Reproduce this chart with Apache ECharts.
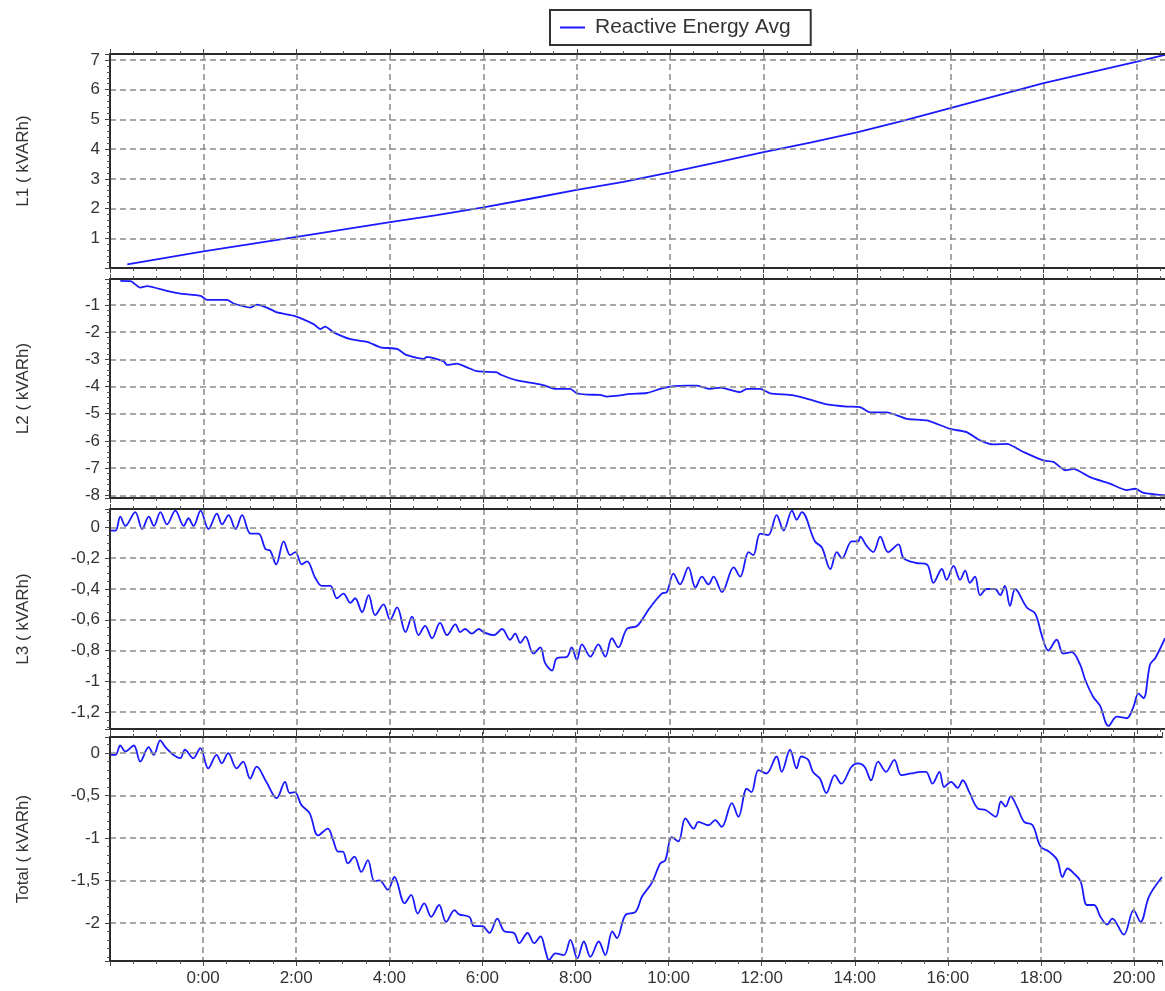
<!DOCTYPE html>
<html>
<head>
<meta charset="utf-8">
<title>Reactive Energy Avg</title>
<script src="https://cdn.jsdelivr.net/npm/echarts@6/dist/echarts.min.js"></script>
<style>
	html, body { margin: 0; padding: 0; background: #fff; }
	#chart { width: 1165px; height: 991px; }
</style>
</head>
<body>
<div id="chart"></div>
<script>
var seriesName = 'Reactive Energy Avg';
var panelNames = ['L1 ( kVARh)', 'L2 ( kVARh)', 'L3 ( kVARh)', 'Total ( kVARh)'];

// time in hours (negative = previous evening), values in kVARh
var l1Hours = [-1.63, -1, 0, 2, 4, 5, 6, 7, 8, 9, 10, 11, 12, 13, 14, 15, 16, 17, 18, 19, 20, 20.6];
var l1Values = [0.12, 0.29, 0.56, 1.05, 1.54, 1.78, 2.04, 2.33, 2.63, 2.90, 3.22, 3.55, 3.90, 4.22, 4.56, 4.96, 5.38, 5.80, 6.22, 6.58, 6.94, 7.17];

var l2Hours = [-1.78, -1.56, -1.35, -1.21, -0.78, -0.49, -0.06, 0.08, 0.51, 0.65,
	1.01, 1.15, 1.36, 1.58, 1.93, 2.36, 2.51, 2.61, 2.79, 3.15,
	3.51, 3.79, 4.15, 4.33, 4.58, 4.72, 4.79, 5.15, 5.22, 5.43,
	5.65, 5.86, 6.29, 6.36, 6.72, 7.07, 7.32, 7.54, 7.86, 8.00,
	8.22, 8.50, 8.64, 8.93, 9.14, 9.50, 9.79, 10.07, 10.36, 10.57,
	10.86, 11.07, 11.50, 11.64, 11.93, 12.14, 12.64, 13.07, 13.36, 13.78,
	14.07, 14.28, 14.64, 15.07, 15.50, 16.00, 16.35, 16.64, 16.92, 17.21,
	17.57, 17.99, 18.21, 18.46, 18.64, 18.99, 19.42, 19.78, 19.96, 20.14,
	20.60];
var l2Values = [-0.12, -0.13, -0.37, -0.31, -0.49, -0.59, -0.67, -0.82, -0.82, -0.95,
	-1.10, -0.99, -1.10, -1.28, -1.40, -1.71, -1.89, -1.80, -2.01, -2.26,
	-2.36, -2.56, -2.62, -2.83, -2.95, -2.99, -2.91, -3.08, -3.21, -3.16,
	-3.30, -3.44, -3.48, -3.56, -3.78, -3.88, -3.97, -4.09, -4.09, -4.25,
	-4.30, -4.31, -4.37, -4.33, -4.27, -4.24, -4.09, -3.99, -3.97, -3.97,
	-4.09, -4.04, -4.21, -4.09, -4.09, -4.25, -4.33, -4.52, -4.66, -4.74,
	-4.76, -4.95, -4.95, -5.19, -5.25, -5.56, -5.68, -5.98, -6.13, -6.11,
	-6.41, -6.72, -6.77, -7.08, -7.03, -7.33, -7.57, -7.81, -7.76, -7.91,
	-8.00];

var l3Hours = [-1.99, -1.88, -1.78, -1.67, -1.46, -1.31, -1.17, -1.06, -0.92, -0.78,
	-0.60, -0.42, -0.32, -0.21, -0.06, 0.11, 0.29, 0.40, 0.54, 0.69,
	0.83, 1.01, 1.18, 1.33, 1.43, 1.56, 1.72, 1.86, 1.97, 2.11,
	2.22, 2.40, 2.54, 2.72, 2.86, 3.00, 3.15, 3.25, 3.40, 3.54,
	3.68, 3.86, 4.00, 4.15, 4.33, 4.47, 4.61, 4.75, 4.90, 5.07,
	5.22, 5.40, 5.50, 5.61, 5.75, 5.90, 6.00, 6.22, 6.40, 6.57,
	6.68, 6.79, 6.90, 7.07, 7.22, 7.32, 7.47, 7.57, 7.79, 7.89,
	8.00, 8.11, 8.29, 8.46, 8.61, 8.75, 8.89, 9.07, 9.29, 9.46,
	9.57, 9.82, 9.93, 10.07, 10.21, 10.39, 10.54, 10.68, 10.82, 10.93,
	11.11, 11.36, 11.50, 11.68, 11.78, 11.93, 12.10, 12.28, 12.43, 12.61,
	12.71, 12.82, 13.10, 13.25, 13.43, 13.57, 13.68, 13.89, 14.03, 14.07,
	14.21, 14.35, 14.50, 14.67, 14.89, 15.00, 15.25, 15.50, 15.64, 15.82,
	15.92, 16.07, 16.21, 16.32, 16.42, 16.53, 16.64, 16.78, 16.96, 17.07,
	17.17, 17.28, 17.39, 17.64, 17.82, 17.96, 18.10, 18.28, 18.42, 18.60,
	18.78, 18.89, 19.06, 19.21, 19.39, 19.57, 19.78, 19.92, 20.03, 20.14,
	20.28, 20.39, 20.60];
var l3Values = [-0.02, -0.02, 0.07, 0.01, 0.10, -0.01, 0.07, 0.01, 0.10, 0.02,
	0.11, 0.01, 0.06, 0.01, 0.11, -0.01, 0.09, 0.02, 0.08, -0.01,
	0.08, -0.04, -0.04, -0.14, -0.15, -0.24, -0.09, -0.18, -0.16, -0.24,
	-0.22, -0.33, -0.38, -0.38, -0.46, -0.43, -0.49, -0.46, -0.55, -0.44,
	-0.57, -0.50, -0.60, -0.52, -0.68, -0.58, -0.70, -0.64, -0.72, -0.62,
	-0.70, -0.63, -0.68, -0.66, -0.69, -0.66, -0.68, -0.70, -0.66, -0.73,
	-0.69, -0.75, -0.71, -0.82, -0.78, -0.88, -0.93, -0.85, -0.84, -0.78,
	-0.86, -0.76, -0.84, -0.76, -0.84, -0.72, -0.78, -0.66, -0.64, -0.57,
	-0.52, -0.43, -0.42, -0.30, -0.37, -0.26, -0.39, -0.32, -0.37, -0.32,
	-0.42, -0.26, -0.32, -0.16, -0.18, -0.04, -0.05, 0.08, -0.02, 0.11,
	0.05, 0.10, -0.09, -0.13, -0.27, -0.16, -0.20, -0.09, -0.09, -0.06,
	-0.12, -0.16, -0.06, -0.16, -0.11, -0.20, -0.23, -0.24, -0.36, -0.27,
	-0.34, -0.25, -0.34, -0.28, -0.36, -0.32, -0.44, -0.40, -0.40, -0.44,
	-0.38, -0.51, -0.40, -0.52, -0.56, -0.70, -0.80, -0.73, -0.82, -0.81,
	-0.89, -0.99, -1.10, -1.16, -1.29, -1.23, -1.24, -1.17, -1.08, -1.11,
	-0.89, -0.85, -0.72];

var totalHours = [-1.99, -1.88, -1.78, -1.67, -1.49, -1.35, -1.17, -1.06, -0.92, -0.81,
	-0.64, -0.49, -0.39, -0.21, -0.06, 0.11, 0.29, 0.40, 0.54, 0.72,
	0.86, 1.01, 1.15, 1.36, 1.58, 1.76, 1.86, 1.97, 2.11, 2.29,
	2.47, 2.68, 2.79, 2.90, 3.00, 3.11, 3.25, 3.40, 3.54, 3.68,
	3.79, 3.97, 4.11, 4.33, 4.47, 4.61, 4.75, 4.90, 5.07, 5.22,
	5.40, 5.50, 5.72, 5.82, 6.00, 6.15, 6.32, 6.47, 6.68, 6.79,
	6.97, 7.11, 7.25, 7.36, 7.43, 7.57, 7.75, 7.89, 8.04, 8.18,
	8.32, 8.50, 8.64, 8.79, 8.89, 9.07, 9.29, 9.43, 9.64, 9.82,
	9.93, 10.07, 10.21, 10.36, 10.54, 10.64, 10.86, 11.00, 11.14, 11.36,
	11.50, 11.68, 11.78, 11.93, 12.10, 12.32, 12.43, 12.61, 12.75, 12.85,
	13.00, 13.10, 13.25, 13.39, 13.57, 13.71, 13.93, 14.07, 14.21, 14.35,
	14.50, 14.67, 14.85, 15.00, 15.21, 15.42, 15.53, 15.67, 15.82, 15.92,
	16.07, 16.21, 16.32, 16.46, 16.64, 16.81, 17.03, 17.14, 17.24, 17.35,
	17.49, 17.64, 17.82, 17.99, 18.17, 18.35, 18.46, 18.57, 18.71, 18.85,
	18.99, 19.14, 19.28, 19.42, 19.53, 19.78, 19.99, 20.14, 20.32, 20.60];
var totalValues = [-0.02, -0.02, 0.09, 0.02, 0.09, -0.10, 0.07, -0.02, 0.15, 0.07,
	-0.02, -0.06, 0.04, -0.06, 0.06, -0.18, -0.02, -0.12, 0.00, -0.18,
	-0.10, -0.30, -0.16, -0.34, -0.53, -0.34, -0.47, -0.46, -0.61, -0.71,
	-0.97, -0.89, -1.02, -1.16, -1.16, -1.30, -1.22, -1.40, -1.26, -1.51,
	-1.50, -1.61, -1.46, -1.77, -1.67, -1.89, -1.77, -1.93, -1.79, -1.99,
	-1.85, -1.90, -1.93, -2.04, -2.04, -2.12, -1.95, -2.10, -2.12, -2.24,
	-2.12, -2.24, -2.16, -2.34, -2.44, -2.36, -2.38, -2.20, -2.42, -2.22,
	-2.40, -2.22, -2.38, -2.10, -2.18, -1.91, -1.87, -1.69, -1.53, -1.30,
	-1.26, -0.99, -1.04, -0.77, -0.89, -0.81, -0.85, -0.79, -0.87, -0.59,
	-0.75, -0.42, -0.46, -0.20, -0.24, -0.04, -0.22, 0.04, -0.18, -0.04,
	-0.08, -0.22, -0.30, -0.47, -0.26, -0.36, -0.16, -0.12, -0.16, -0.32,
	-0.10, -0.22, -0.08, -0.26, -0.24, -0.22, -0.22, -0.36, -0.22, -0.40,
	-0.34, -0.41, -0.32, -0.46, -0.65, -0.67, -0.75, -0.57, -0.63, -0.51,
	-0.64, -0.81, -0.85, -1.10, -1.16, -1.26, -1.46, -1.36, -1.42, -1.51,
	-1.79, -1.79, -1.93, -2.02, -1.95, -2.14, -1.85, -1.99, -1.69, -1.46];

// axis extents per panel
var yMin = [0, -8.1, -1.31, -2.45];
var yMax = [7.2, -0.05, 0.12, 0.19];
var ySplit = [7, 8, 7, 5];
var yMinorSplit = [5, 5, 4, 5];
var xMin = -2, xMax = 20.6, xStep = 2;

var gridTop = [54, 279, 509, 737];
var gridHeight = [214, 219, 220, 224];
var smoothness = [0, 0.2, 0.35, 0.35];

var fontFam = '"Liberation Sans", Arial, sans-serif';
var textColor = '#333';
var lineColor = '#1a1aff';

function pairs(hours, values) {
	var out = [];
	for (var i = 0; i < hours.length; i++) {
		out.push([hours[i], values[i]]);
	}
	return out;
}

var panelData = [
	pairs(l1Hours, l1Values),
	pairs(l2Hours, l2Values),
	pairs(l3Hours, l3Values),
	pairs(totalHours, totalValues)
];

function yLabel(v) {
	return String(+v.toFixed(2)).replace('.', ',');
}

function xLabel(v) {
	if (v < 0 || Math.abs(v % 2) > 1e-6) return '';
	return v + ':00';
}

var gridLine = { color: '#8a8a8a', type: [6, 4], width: 1.5 };

var grids = [], xAxes = [], yAxes = [], series = [];
for (var i = 0; i < 4; i++) {
	grids.push({
		left: 110,
		right: 0,
		top: gridTop[i],
		height: gridHeight[i],
		show: false
	});

	// bottom axis
	xAxes.push({
		gridIndex: i,
		type: 'value',
		position: 'bottom',
		min: xMin,
		max: xMax,
		interval: xStep,
		z: 5,
		axisLine: { show: true, onZero: false, lineStyle: { color: '#2a2a2a', width: 2 } },
		axisTick: { show: true, length: 5, lineStyle: { color: '#444' } },
		minorTick: { show: true, splitNumber: 4, length: 3, lineStyle: { color: '#555' } },
		axisLabel: {
			show: i === 3,
			formatter: xLabel,
			color: textColor,
			fontFamily: fontFam,
			fontSize: 17,
			margin: 9
		},
		splitLine: { show: true, showMinLine: false, showMaxLine: false, lineStyle: gridLine }
	});
	// top axis, frame and ticks only
	xAxes.push({
		gridIndex: i,
		type: 'value',
		position: 'top',
		min: xMin,
		max: xMax,
		interval: xStep,
		z: 5,
		axisLine: { show: true, onZero: false, lineStyle: { color: '#2a2a2a', width: 2 } },
		axisTick: { show: true, length: 5, lineStyle: { color: '#444' } },
		minorTick: { show: true, splitNumber: 4, length: 3, lineStyle: { color: '#555' } },
		axisLabel: { show: false },
		splitLine: { show: false }
	});

	var yAxis = {
		gridIndex: i,
		type: 'value',
		min: yMin[i],
		max: yMax[i],
		splitNumber: ySplit[i],
		z: 5,
		name: panelNames[i],
		nameLocation: 'middle',
		nameGap: 78,
		nameRotate: 90,
		nameTextStyle: { color: textColor, fontFamily: fontFam, fontSize: 17 },
		axisLine: { show: true, onZero: false, lineStyle: { color: '#2a2a2a', width: 2 } },
		axisTick: { show: true, length: 5, lineStyle: { color: '#444' } },
		minorTick: { show: true, splitNumber: yMinorSplit[i], length: 3, lineStyle: { color: '#555' } },
		axisLabel: {
			color: textColor,
			fontFamily: fontFam,
			fontSize: 17,
			margin: 10,
			formatter: yLabel,
			showMinLabel: false,
			showMaxLabel: false
		},
		splitLine: { show: true, showMinLine: false, showMaxLine: false, lineStyle: gridLine }
	};
	if (i === 0) yAxis.interval = 1;
	yAxes.push(yAxis);

	series.push({
		name: seriesName,
		type: 'line',
		xAxisIndex: i * 2,
		yAxisIndex: i,
		data: panelData[i],
		showSymbol: false,
		symbol: 'none',
		smooth: smoothness[i],
		clip: true,
		lineStyle: { color: lineColor, width: 1.8 },
		itemStyle: { color: lineColor }
	});
}

var myChart = echarts.init(document.getElementById('chart'));
myChart.setOption({
	animation: false,
	backgroundColor: '#fff',
	legend: {
		data: [seriesName],
		left: 550,
		top: 10,
		padding: [7, 20, 7, 10],
		borderColor: '#333',
		borderWidth: 2,
		icon: 'rect',
		itemWidth: 25,
		itemHeight: 2,
		textStyle: { color: textColor, fontFamily: fontFam, fontSize: 21, padding: [0, 0, 0, 5] }
	},
	grid: grids,
	xAxis: xAxes,
	yAxis: yAxes,
	series: series
});
</script>
</body>
</html>
